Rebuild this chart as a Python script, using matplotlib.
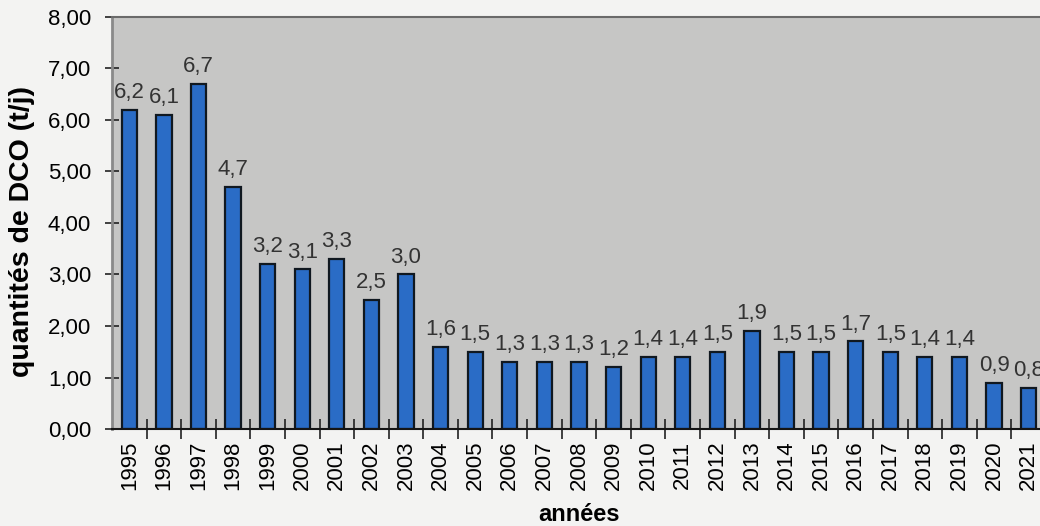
import numpy as np
import matplotlib
matplotlib.use('Agg')
import matplotlib.pyplot as plt
from matplotlib.ticker import FuncFormatter

plt.rcParams['font.family'] = ['Liberation Sans', 'DejaVu Sans']

# DCO quantities per year (t/j)
annees = ['1995', '1996', '1997', '1998', '1999', '2000', '2001', '2002', '2003',
          '2004', '2005', '2006', '2007', '2008', '2009', '2010', '2011', '2012',
          '2013', '2014', '2015', '2016', '2017', '2018', '2019', '2020', '2021']
dco = [6.2, 6.1, 6.7, 4.7, 3.2, 3.1, 3.3, 2.5, 3.0,
       1.6, 1.5, 1.3, 1.3, 1.3, 1.2, 1.4, 1.4, 1.5,
       1.9, 1.5, 1.5, 1.7, 1.5, 1.4, 1.4, 0.9, 0.8]

fig = plt.figure(figsize=(10.4, 5.26), dpi=100)
fig.patch.set_facecolor('#f3f3f2')
# the plot area runs off the right edge of the page
ax = fig.add_axes([0.1077, 0.1844, 0.898, 0.7833])
ax.set_facecolor('#c6c6c5')

x = np.arange(len(annees))
bars = ax.bar(x, dco, width=0.44, color='#2a6cc6', edgecolor='#101820', linewidth=1.6)

for xi, v in zip(x, dco):
    ax.annotate(f'{v:.1f}'.replace('.', ','), (xi, v), xytext=(0, 8.5),
                textcoords='offset points', ha='center', va='baseline',
                fontsize=16, color='#333333')

ax.set_xlim(-0.5, len(annees) - 0.5)
ax.set_ylim(0, 8)
ax.set_yticks(np.arange(0, 9, 1))
ax.yaxis.set_major_formatter(FuncFormatter(lambda v, p: f'{v:.2f}'.replace('.', ',')))

# category ticks sit between the bars, labels under each bar
ax.set_xticks(x + 0.5)
ax.set_xticklabels([])
ax.set_xticks(x, minor=True)
ax.set_xticklabels(annees, minor=True, rotation=90, fontsize=16)
ax.tick_params(axis='x', which='major', direction='inout', length=15, width=1.2, color='#222222')
ax.tick_params(axis='x', which='minor', length=0, pad=8.5)
ax.tick_params(axis='y', direction='inout', length=10, width=1.2, color='#222222',
               labelsize=16, pad=10)

for side in ['top', 'right']:
    ax.spines[side].set_color('#6a6a6a')
    ax.spines[side].set_linewidth(1.5)
ax.spines['left'].set_color('#8a8a8a')
ax.spines['left'].set_linewidth(2)
ax.spines['bottom'].set_color('#151515')
ax.spines['bottom'].set_linewidth(1.5)

ax.set_ylabel('quantités de DCO (t/j)', fontsize=20.5, fontweight='bold')
ax.yaxis.set_label_coords(-0.082, 0.48)
ax.set_xlabel('années', fontsize=17, fontweight='bold')
ax.xaxis.set_label_coords(0.5, -0.18)

fig.savefig('out.png', dpi=100, facecolor=fig.get_facecolor())
